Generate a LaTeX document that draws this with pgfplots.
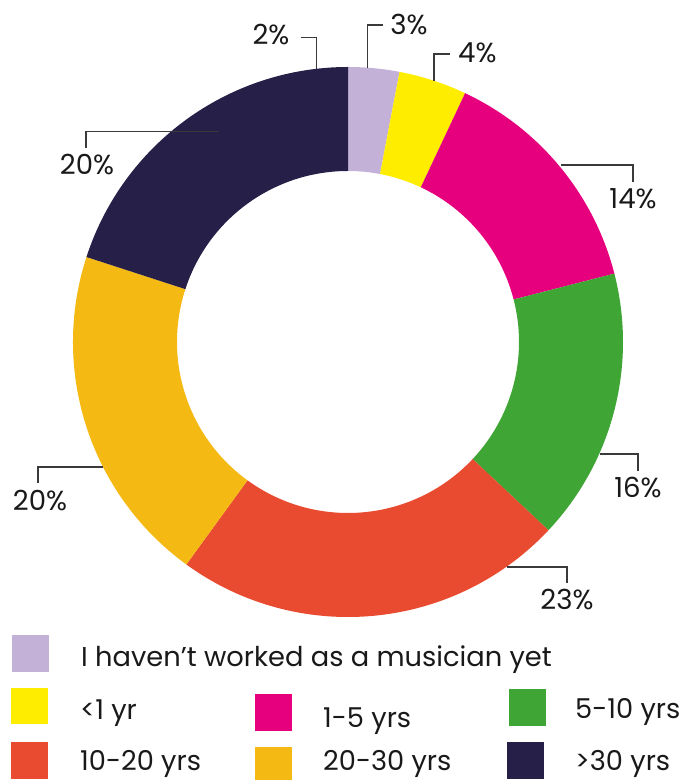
\documentclass[border=0pt]{standalone}
\usepackage{fontspec}
\setmainfont{Poppins}
\usepackage{pgfplots}
\usepackage{pgfplotstable}
\pgfplotsset{compat=1.18}
\definecolor{lav}{HTML}{C3B1D8}
\definecolor{yel}{HTML}{FFED00}
\definecolor{mag}{HTML}{E6007E}
\definecolor{grn}{HTML}{3FA535}
\definecolor{rd}{HTML}{E84B30}
\definecolor{org}{HTML}{F5B914}
\definecolor{nav}{HTML}{261F47}
\definecolor{lead}{HTML}{3A3A3A}
\pgfplotstableread{
pct col
3 lav
4 yel
14 mag
16 grn
23 rd
20 org
20 nav
}\slices
\pgfplotstablecreatecol[create col/expr accum={\pgfmathaccuma+\thisrow{pct}}{0}]{cum}\slices
\begin{document}
\begin{tikzpicture}
\begin{axis}[name=ax, scale only axis, x=1bp, y=1bp, xmin=0, xmax=681, ymin=0, ymax=780, hide axis, clip=false]
\pgfplotsinvokeforeach{0,...,6}{%
  \pgfplotstablegetelem{#1}{pct}\of\slices \let\sPct\pgfplotsretval
  \pgfplotstablegetelem{#1}{cum}\of\slices \let\sCum\pgfplotsretval
  \pgfplotstablegetelem{#1}{col}\of\slices \let\sCol\pgfplotsretval
  \pgfmathsetmacro\aS{90-3.6*(\sCum-\sPct)}%
  \pgfmathsetmacro\aE{90-3.6*\sCum}%
  \edef\slice{\noexpand\fill[\sCol] ([shift={(\aS:275bp)}]axis cs:348,438) arc[start angle=\aS, end angle=\aE, radius=275bp] -- ([shift={(\aE:171bp)}]axis cs:348,438) arc[start angle=\aE, end angle=\aS, radius=171bp] -- cycle;}%
  \slice
}
% leader lines
\begin{scope}[line width=1.4bp, draw=lead]
\draw (axis cs:300.7,742.7) -- (axis cs:316.7,742.7) -- (axis cs:316.7,711.2);
\draw (axis cs:383,755) -- (axis cs:367.7,755) -- (axis cs:367.7,712.3);
\draw (axis cs:450,726) -- (axis cs:434,726) -- (axis cs:434,699.2);
\draw (axis cs:561,615) -- (axis cs:633,615) -- (axis cs:633,598);
\draw (axis cs:600,326) -- (axis cs:638,326) -- (axis cs:638,309);
\draw (axis cs:507,213) -- (axis cs:567,213) -- (axis cs:567,197);
\draw (axis cs:103,313) -- (axis cs:38,313) -- (axis cs:38,297);
\draw (axis cs:218,648.3) -- (axis cs:86,648.3) -- (axis cs:86,632);
\end{scope}
\begin{scope}[every node/.style={font=\fontsize{27.7}{32}\selectfont, inner sep=0pt, text=black!90}]
\node[anchor=base] at (axis cs:271,735) {2\%};
\node[anchor=base] at (axis cs:409,745) {3\%};
\node[anchor=base west] at (axis cs:458,717) {4\%};
\node[anchor=base] at (axis cs:633,571) {14\%};
\node[anchor=base] at (axis cs:638,282) {16\%};
\node[anchor=base] at (axis cs:567,170) {23\%};
\node[anchor=base] at (axis cs:40,269) {20\%};
\node[anchor=base] at (axis cs:87,605) {20\%};
\end{scope}
% legend
\fill[lav] (axis cs:12,108) rectangle (axis cs:49,145);
\fill[yel] (axis cs:11,56) rectangle (axis cs:48,92);
\fill[rd] (axis cs:11,1) rectangle (axis cs:48,38);
\fill[mag] (axis cs:255,49) rectangle (axis cs:292,86);
\fill[org] (axis cs:255,0) rectangle (axis cs:292,33);
\fill[grn] (axis cs:509,54) rectangle (axis cs:546,91);
\fill[nav] (axis cs:507,1) rectangle (axis cs:544,38);
\begin{scope}[every node/.style={font=\fontsize{27.4}{32}\selectfont, inner sep=0pt, text=black!90}]
\node[anchor=base west] at (axis cs:81,113) {I haven’t worked as a musician yet};
\node[anchor=base west] at (axis cs:80,60) {<1 yr};
\node[anchor=base west] at (axis cs:80,9) {10-20 yrs};
\node[anchor=base west] at (axis cs:323,52) {1-5 yrs};
\node[anchor=base west] at (axis cs:323,9) {20-30 yrs};
\node[anchor=base west] at (axis cs:575,61) {5-10 yrs};
\node[anchor=base west] at (axis cs:575,9) {>30 yrs};
\end{scope}
\end{axis}
\pgfresetboundingbox
\useasboundingbox (ax.south west) rectangle (ax.north east);
\end{tikzpicture}
\end{document}
